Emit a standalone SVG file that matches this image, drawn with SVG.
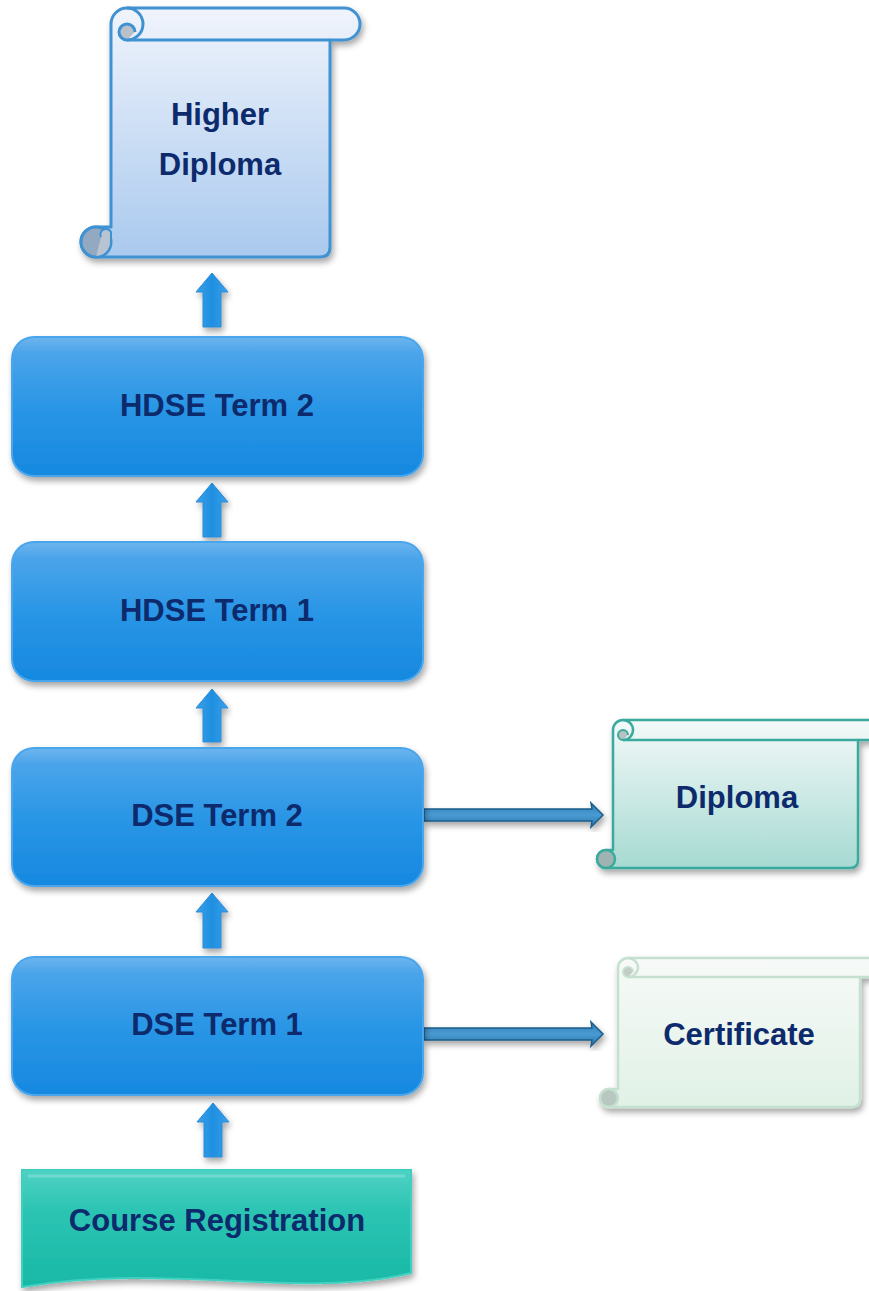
<svg xmlns="http://www.w3.org/2000/svg" width="869" height="1291" viewBox="0 0 869 1291">
<defs>
<linearGradient id="gBox" x1="0" y1="0" x2="0" y2="1">
<stop offset="0" stop-color="#6db5ee"/><stop offset="0.12" stop-color="#4aa4ea"/><stop offset="0.5" stop-color="#2a96e6"/><stop offset="1" stop-color="#1688e0"/>
</linearGradient>
<linearGradient id="gHD" x1="0" y1="0" x2="0" y2="1">
<stop offset="0" stop-color="#f0f4fc"/><stop offset="1" stop-color="#a9c9ee"/>
</linearGradient>
<linearGradient id="gDip" x1="0" y1="0" x2="0" y2="1">
<stop offset="0" stop-color="#f4f9f9"/><stop offset="1" stop-color="#a6dad2"/>
</linearGradient>
<linearGradient id="gCert" x1="0" y1="0" x2="0" y2="1">
<stop offset="0" stop-color="#f7faf8"/><stop offset="1" stop-color="#e0f1e6"/>
</linearGradient>
<linearGradient id="gReg" x1="0" y1="0" x2="0" y2="1">
<stop offset="0" stop-color="#4fd2c4"/><stop offset="0.35" stop-color="#2cc4b3"/><stop offset="1" stop-color="#18b8a6"/>
</linearGradient>
<linearGradient id="gUp" x1="0" y1="0" x2="1" y2="0">
<stop offset="0" stop-color="#3aa0ea"/><stop offset="0.5" stop-color="#1f8fe0"/><stop offset="1" stop-color="#3aa0ea"/>
</linearGradient>
<linearGradient id="gRight" x1="0" y1="0" x2="0" y2="1">
<stop offset="0" stop-color="#2f7fb8"/><stop offset="0.5" stop-color="#4a9ad2"/><stop offset="1" stop-color="#2c78b0"/>
</linearGradient>
<filter id="sh" x="-10%" y="-10%" width="125%" height="130%">
<feDropShadow dx="2" dy="4" stdDeviation="3" flood-color="#000" flood-opacity="0.35"/>
</filter>
</defs>
<style>
.lbl{font-family:"Liberation Sans",Arial,sans-serif;font-weight:bold;font-size:31px;fill:#0c2a6c;text-anchor:middle}
.box{fill:url(#gBox);stroke:#4aa6ec;stroke-width:2}
.up{fill:url(#gUp);stroke:#2a8ad8;stroke-width:1}
.rt{fill:url(#gRight);stroke:#1c5d8c;stroke-width:1.5}
</style>

<g id="connectors">
<path class="up" filter="url(#sh)" d="M212,273 L228,292 L221,292 L221,327 L203,327 L203,292 L196,292 Z"/>
<path class="up" filter="url(#sh)" d="M212,483 L228,502 L221,502 L221,537 L203,537 L203,502 L196,502 Z"/>
<path class="up" filter="url(#sh)" d="M212,689 L228,708 L221,708 L221,742 L203,742 L203,708 L196,708 Z"/>
<path class="up" filter="url(#sh)" d="M212,893 L228,912 L221,912 L221,948 L203,948 L203,912 L196,912 Z"/>
<path class="up" filter="url(#sh)" d="M213,1103 L229,1122 L222,1122 L222,1157 L204,1157 L204,1122 L197,1122 Z"/>
<path class="rt" filter="url(#sh)" d="M424,809 L592,809 L591,803 L603,815 L591,827 L592,821 L424,821 Z"/>
<path class="rt" filter="url(#sh)" d="M424,1028 L592,1028 L591,1022 L603,1034 L591,1046 L592,1040 L424,1040 Z"/>
</g>

<g id="higher-diploma">
<g filter="url(#sh)">
<path d="M111,24 A16,16 0 0 1 127,8 L344,8 A16,16 0 0 1 344,40 L330,40 L330,247 Q330,257 320,257 L96,257 A15,15 0 0 1 96,227 L111,227 Z" fill="url(#gHD)" stroke="#3f92d2" stroke-width="3" stroke-linejoin="round"/>
</g>
<path d="M127,40 L330,40" fill="none" stroke="#3f92d2" stroke-width="3"/>
<path d="M127,40 A8,8 0 0 1 127,24 A8,8 0 0 1 135,32" fill="#b9c0c9" stroke="#3f92d2" stroke-width="3"/>
<path d="M127,8 A16,16 0 0 1 143,24 A16,16 0 0 1 127,40" fill="none" stroke="#3f92d2" stroke-width="3"/>
<circle cx="96" cy="242" r="15" fill="#93a9c2" stroke="#3f92d2" stroke-width="3"/>
<path d="M96,257 A15,15 0 0 0 111,242 L111,232 A5,5 0 0 0 101,237" fill="#b8c4d2" stroke="#3f92d2" stroke-width="2"/>
<text class="lbl" x="220" y="125">Higher</text>
<text class="lbl" x="220" y="175">Diploma</text>
</g>

<g id="hdse-term-2">
<rect class="box" filter="url(#sh)" x="12" y="337" width="411" height="139" rx="22"/>
<text class="lbl" x="217" y="416">HDSE Term 2</text>
</g>
<g id="hdse-term-1">
<rect class="box" filter="url(#sh)" x="12" y="542" width="411" height="139" rx="22"/>
<text class="lbl" x="217" y="621">HDSE Term 1</text>
</g>
<g id="dse-term-2">
<rect class="box" filter="url(#sh)" x="12" y="748" width="411" height="138" rx="22"/>
<text class="lbl" x="217" y="826">DSE Term 2</text>
</g>
<g id="dse-term-1">
<rect class="box" filter="url(#sh)" x="12" y="957" width="411" height="138" rx="22"/>
<text class="lbl" x="217" y="1035">DSE Term 1</text>
</g>

<g id="course-registration">
<path filter="url(#sh)" d="M22,1170 L411,1170 L411,1273 C300,1300 170,1262 22,1287 Z" fill="url(#gReg)" stroke="#3fd0c0" stroke-width="2"/>
<path d="M28,1176 L405,1176" stroke="#7fe0d6" stroke-width="3" fill="none" opacity="0.7"/>
<text class="lbl" x="217" y="1231">Course Registration</text>
</g>

<g id="diploma">
<g filter="url(#sh)">
<path d="M613,730 A10,10 0 0 1 623,720 L880,720 L880,740 L858,740 L858,860 Q858,868 850,868 L606,868 A9,9 0 0 1 606,850 L613,850 Z" fill="url(#gDip)" stroke="#3aaa9e" stroke-width="2.5" stroke-linejoin="round"/>
</g>
<path d="M623,740 L858,740" stroke="#3aaa9e" stroke-width="2.5" fill="none"/>
<path d="M623,740 A5,5 0 0 1 623,730 A5,5 0 0 1 628,735" fill="#b8c0c0" stroke="#3aaa9e" stroke-width="2"/>
<path d="M623,720 A10,10 0 0 1 633,730 A10,10 0 0 1 623,740" fill="none" stroke="#3aaa9e" stroke-width="2.5"/>
<circle cx="606" cy="859" r="9" fill="#9fb4b2" stroke="#3aaa9e" stroke-width="2.5"/>
<text class="lbl" x="737" y="808">Diploma</text>
</g>

<g id="certificate">
<g filter="url(#sh)">
<path d="M618,968 A10,10 0 0 1 628,958 L880,958 L880,977 L860,977 L860,1099 Q860,1107 852,1107 L609,1107 A9,9 0 0 1 609,1089 L618,1089 Z" fill="url(#gCert)" stroke="#c6e0cf" stroke-width="2.5" stroke-linejoin="round"/>
</g>
<path d="M628,977 L860,977" stroke="#c6e0cf" stroke-width="2.5" fill="none"/>
<path d="M628,977 A5,5 0 0 1 628,967 A5,5 0 0 1 633,972" fill="#c4ccc8" stroke="#c6e0cf" stroke-width="2"/>
<path d="M628,958 A10,10 0 0 1 638,968 A10,10 0 0 1 628,977" fill="none" stroke="#c6e0cf" stroke-width="2.5"/>
<circle cx="609" cy="1098" r="9" fill="#b8c8c0" stroke="#c6e0cf" stroke-width="2.5"/>
<text class="lbl" x="739" y="1045">Certificate</text>
</g>
</svg>
